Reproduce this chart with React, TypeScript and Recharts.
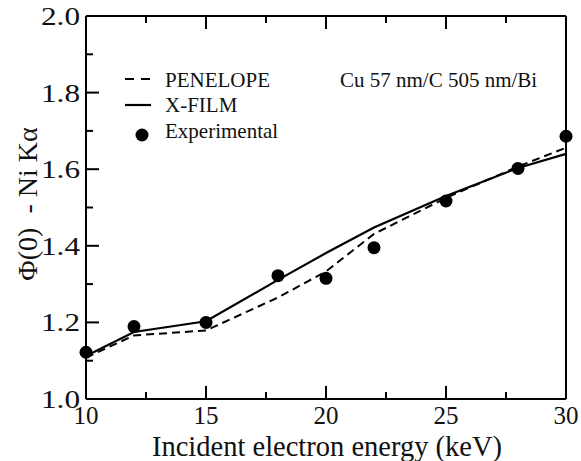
import { ComposedChart, Line, Scatter, XAxis, YAxis } from "recharts";

const energies = [10, 12, 15, 18, 20, 22, 25, 28, 30];
const penelope = [1.108, 1.166, 1.179, 1.265, 1.333, 1.431, 1.525, 1.607, 1.656];
const xfilm = [1.112, 1.175, 1.203, 1.311, 1.381, 1.448, 1.53, 1.603, 1.64];
const experimental = [1.122, 1.189, 1.2, 1.322, 1.315, 1.395, 1.517, 1.602, 1.686];

const xTicks = [10, 12.5, 15, 17.5, 20, 22.5, 25, 27.5, 30];
const yTicks = [1.0, 1.1, 1.2, 1.3, 1.4, 1.5, 1.6, 1.7, 1.8, 1.9, 2.0];

const FONT = '"Liberation Serif", "Times New Roman", serif';

const data = energies.map((e, i) => ({
  e,
  pen: penelope[i],
  xf: xfilm[i],
  exp: experimental[i],
}));

const isMajorX = (v: number) => v % 5 === 0;
const isMajorY = (v: number) => Math.round(v * 10) % 2 === 0;

// ticks point inward, so they're drawn by hand
function BottomTick({ x, y, payload }: any) {
  const major = isMajorX(payload.value);
  return (
    <g>
      <line x1={x} x2={x} y1={y} y2={y - (major ? 13 : 7)} stroke="#000" strokeWidth={2} />
      {major && (
        <text x={x} y={y + 25} textAnchor="middle" fontSize={25} fontFamily={FONT} fill="#111">
          {payload.value}
        </text>
      )}
    </g>
  );
}

function TopTick({ x, y, payload }: any) {
  const major = isMajorX(payload.value);
  return <line x1={x} x2={x} y1={y} y2={y + (major ? 13 : 7)} stroke="#000" strokeWidth={2} />;
}

function LeftTick({ x, y, payload }: any) {
  const major = isMajorY(payload.value);
  return (
    <g>
      <line x1={x} x2={x + (major ? 13 : 7)} y1={y} y2={y} stroke="#000" strokeWidth={2} />
      {major && (
        <text
          x={0}
          y={0}
          textAnchor="end"
          fontSize={25}
          fontFamily={FONT}
          fill="#111"
          transform={`translate(${x - 6},${y + 9}) scale(1.25,1)`}
        >
          {payload.value.toFixed(1)}
        </text>
      )}
    </g>
  );
}

function RightTick({ x, y, payload }: any) {
  const major = isMajorY(payload.value);
  return <line x1={x} x2={x - (major ? 13 : 7)} y1={y} y2={y} stroke="#000" strokeWidth={2} />;
}

const axisLine = { stroke: "#000", strokeWidth: 2 };

export default function App() {
  return (
    <div
      style={{
        position: "absolute",
        left: 0,
        top: 0,
        width: 581,
        height: 461,
        background: "#fff",
        fontFamily: FONT,
      }}
    >
      <ComposedChart
        width={581}
        height={461}
        data={data}
        margin={{ top: 15, right: 14, bottom: 61, left: 85 }}
      >
        <XAxis
          dataKey="e"
          type="number"
          domain={[10, 30]}
          ticks={xTicks}
          interval={0}
          height={1}
          tickSize={0}
          tickMargin={0}
          tickLine={false}
          axisLine={axisLine}
          tick={(p: any) => <BottomTick {...p} />}
        />
        <XAxis
          xAxisId="top"
          orientation="top"
          dataKey="e"
          type="number"
          domain={[10, 30]}
          ticks={xTicks}
          interval={0}
          height={1}
          tickSize={0}
          tickMargin={0}
          tickLine={false}
          axisLine={axisLine}
          tick={(p: any) => <TopTick {...p} />}
        />
        <YAxis
          type="number"
          domain={[1, 2]}
          ticks={yTicks}
          interval={0}
          width={1}
          tickSize={0}
          tickMargin={0}
          tickLine={false}
          axisLine={axisLine}
          tick={(p: any) => <LeftTick {...p} />}
        />
        <YAxis
          yAxisId="right"
          orientation="right"
          type="number"
          domain={[1, 2]}
          ticks={yTicks}
          interval={0}
          width={1}
          tickSize={0}
          tickMargin={0}
          tickLine={false}
          axisLine={axisLine}
          tick={(p: any) => <RightTick {...p} />}
        />
        <Line
          dataKey="pen"
          stroke="#000"
          strokeWidth={2}
          strokeDasharray="8 5"
          dot={false}
          type="linear"
          isAnimationActive={false}
        />
        <Line
          dataKey="xf"
          stroke="#000"
          strokeWidth={2.2}
          dot={false}
          type="linear"
          isAnimationActive={false}
        />
        <Scatter
          dataKey="exp"
          fill="#000"
          isAnimationActive={false}
          shape={(p: any) => <circle cx={p.cx} cy={p.cy} r={6.5} fill="#000" />}
        />
      </ComposedChart>

      <svg
        width={581}
        height={461}
        style={{ position: "absolute", left: 0, top: 0, pointerEvents: "none" }}
      >
        {/* legend */}
        <line x1={125} x2={151} y1={79} y2={79} stroke="#000" strokeWidth={2} strokeDasharray="9 7" />
        <text x={165} y={87} fontSize={21} fontFamily={FONT} fill="#111">PENELOPE</text>
        <line x1={125} x2={151} y1={105} y2={105} stroke="#000" strokeWidth={2.2} />
        <text x={165} y={112} fontSize={21} fontFamily={FONT} fill="#111">X-FILM</text>
        <circle cx={142} cy={135} r={6.5} fill="#000" />
        <text x={165} y={138} fontSize={21} fontFamily={FONT} fill="#111">Experimental</text>

        <text x={340} y={87} fontSize={21} fontFamily={FONT} fill="#111">Cu 57 nm/C 505 nm/Bi</text>

        {/* axis titles */}
        <text x={327} y={456} textAnchor="middle" fontSize={28.5} fontFamily={FONT} fill="#111">
          Incident electron energy (keV)
        </text>
        <text
          x={37}
          y={204}
          textAnchor="middle"
          fontSize={28}
          fontFamily={FONT}
          fill="#111"
          transform="rotate(-90 37 204)"
        >
          {"Φ(0)\u00a0 - Ni Kα"}
        </text>
      </svg>
    </div>
  );
}
